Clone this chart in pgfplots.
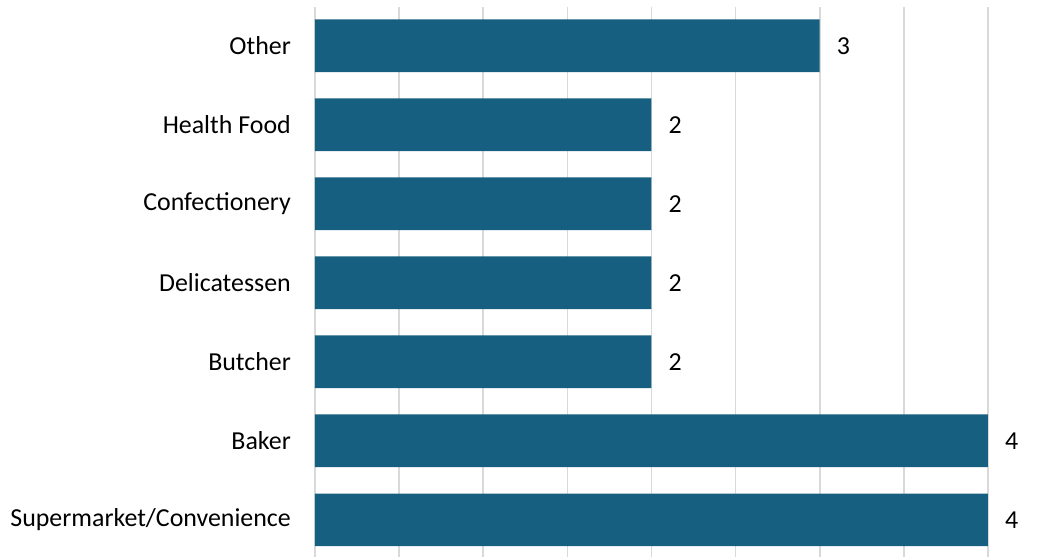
\documentclass[border=0pt]{standalone}
\usepackage{pgfplots}
\pgfplotsset{compat=1.18}
\usepackage{fontspec}
\setmainfont{Carlito}
\definecolor{barblue}{RGB}{23,95,128}
\definecolor{gridgray}{RGB}{217,217,217}
\begin{document}
\begin{tikzpicture}
\useasboundingbox (-315bp,-1bp) rectangle (746bp,557bp);
\begin{axis}[
  at={(0,0)}, anchor=south west,
  scale only axis, width=673bp, height=550bp,
  xbar, bar width=0.667,
  xmin=0, xmax=4, ymin=-0.47, ymax=6.49,
  xtick={0,0.5,...,4}, xticklabels={},
  xmajorgrids, grid style={gridgray, line width=1.6bp},
  ytick={0,1,2,3,4,5,6},
  yticklabels={Supermarket/Convenience,Baker,Butcher,Delicatessen,Confectionery,Health Food,Other},
  yticklabel style={font=\fontsize{26}{30}\selectfont, inner sep=0pt, xshift=-24bp, anchor=east},
  major tick length=0pt,
  axis line style={draw=none},
  nodes near coords,
  nodes near coords style={font=\fontsize{26}{30}\selectfont, inner sep=0pt, anchor=west, xshift=17bp},
  /pgf/number format/assume math mode=true,
  clip=false,
]
\addplot[fill=barblue, draw=none] coordinates {(4,0) (4,1) (2,2) (2,3) (2,4) (2,5) (3,6)};
\end{axis}
\end{tikzpicture}
\end{document}
